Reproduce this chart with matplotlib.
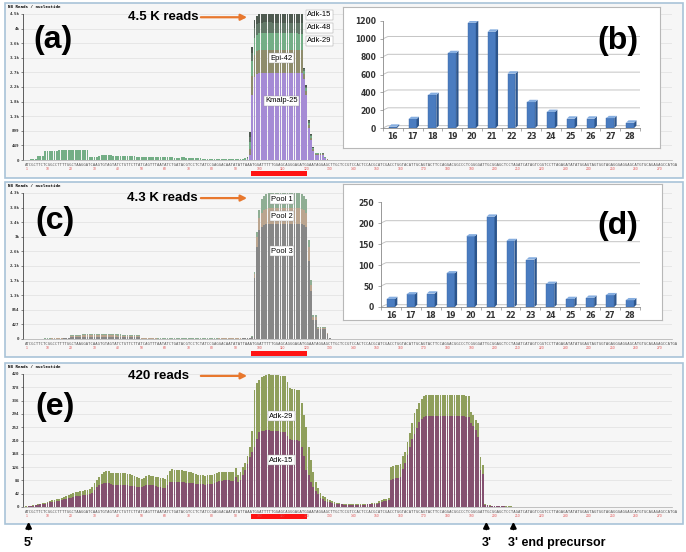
import numpy as np
import matplotlib.pyplot as plt
import matplotlib.transforms as mtransforms
from matplotlib.patches import Rectangle, Polygon

plt.rcParams['font.family'] = ['Liberation Sans', 'DejaVu Sans']

W, H = 686, 552
N = 275  # nucleotides shown along the precursor


def pad(values):
    return np.array(values + [0] * (N - len(values)), dtype=float)


# miRNA location on the precursor (0-based index), drawn as the red bar
mirna_start, mirna_end = 96, 119

# nucleotide numbers printed in red under the sequence
nt_labels = [1, 10, 20, 30, 40, 50, 60, 70, 80, 90, 100, 110, 120, 130, 140,
             150, 160, 170, 180, 190, 200, 210, 220, 230, 240, 250, 260, 270]

seq_text = ("ATCGCTTCTCGGCCTTTTGGCTAAGGATCAAGTGTAGTATCTGTTCTTATCAGTTTAATATCTGATACG"
            "TCCTCTATCCGAGGACAATATATTAAATGGATTTTTGGAGCAGGGAGATGGAATAGGAGCTTGCTCCGT"
            "CCACTCCACGCATCGACCTGGTACATTGCAGTACTTCCAGGACGGCCCTCGGGGATTGCGGAGCTCCTA"
            "GATCATAGTCGGTCCTTAGAGATATATGGAGTAGTGGTAGAGGGAGGAGCATGTGCAGAGAGCCATGAG"
            "GCATCAGCATTCCAGT")

# ---- (a) reads / nucleotide, per library (stack order bottom -> top)
kmalp_25 = [0] * 94 + [20, 150, 2000, 2550, 2650,
                       2690, 2690, 2690, 2695, 2695, 2695, 2690, 2690, 2690,
                       2690, 2690, 2690, 2690, 2690, 2685, 2685, 2685, 2680,
                       2680, 2500, 2000, 1000, 630, 290, 160, 160, 160, 150, 60, 15]
epi_42 = [0] * 94 + [20, 200, 600, 700, 700,
                     700, 700, 705, 705, 705, 700, 700, 700, 700,
                     700, 700, 700, 700, 700, 700, 700, 700, 700,
                     700, 150, 130, 90, 60, 40, 25, 25, 25, 25, 15, 5]
adk_29 = [10, 15, 20, 20, 25, 110, 120, 125,
          285, 287, 288, 290, 290, 292, 293, 295, 295, 296, 297, 298, 300, 300, 302, 303, 305, 306, 308,
          90, 85, 90, 100, 120,
          140, 145, 145, 140, 140, 138, 135, 130, 128, 125, 120, 118, 115,
          110, 108, 105, 100, 95, 90, 85, 82, 80, 80, 78, 78, 80, 80, 82, 82, 80, 78, 75, 75,
          75, 78, 78, 75, 72, 70, 70, 65, 60, 55,
          40, 40, 38, 38, 35, 35, 35, 30, 30, 30, 30, 30, 30, 30, 28, 30, 35, 40, 60] + \
         [30, 200, 450, 500, 510,
          515, 515, 515, 515, 515, 515, 515, 515, 515,
          515, 515, 515, 515, 515, 515, 515, 515, 515,
          510, 90, 80, 60, 50, 30, 20, 20, 20, 20, 10, 5]
adk_48 = [0] * 94 + [15, 170, 250, 320, 320,
                     330, 330, 330, 330, 330, 330, 330, 330, 330,
                     330, 330, 330, 330, 330, 330, 330, 330, 330,
                     330, 50, 50, 40, 30, 20, 15, 15, 15, 15, 10, 3]
adk_15 = [0] * 94 + [15, 150, 190, 250, 260,
                     265, 265, 265, 265, 265, 265, 265, 265, 265,
                     265, 265, 265, 265, 265, 265, 265, 265, 265,
                     265, 50, 50, 40, 30, 20, 10, 10, 10, 10, 5, 2]

# ---- (c) reads / nucleotide, per pool
pool_3 = [5, 5, 6, 6, 7, 8, 8, 9, 10, 10, 10, 12, 12, 12, 14, 14, 15, 15, 16,
          55, 58, 60, 60, 62, 62, 63, 63, 64, 64, 65, 65, 65, 66, 66, 66, 65, 65, 64, 64,
          63, 63, 62, 62, 60, 60, 58, 58, 56, 55,
          12, 12, 11, 11, 10, 10, 10, 9, 9, 9, 9, 9, 9, 9, 8, 8, 8, 8, 8, 8, 8, 8, 8, 8,
          8, 8, 8, 8, 8, 9, 9, 9, 9, 10, 10, 10, 10, 11, 11, 12, 12, 13, 14, 15, 16, 18, 20,
          60, 1800, 2700, 3200,
          3300, 3350, 3380, 3400, 3400, 3400, 3400, 3400, 3400, 3400,
          3400, 3400, 3400, 3400, 3400, 3400, 3400, 3380, 3350, 3300,
          2300, 1400, 550, 550, 280, 280, 280, 280, 140, 20, 5]
pool_2 = [3] * 19 + [35, 38, 40, 40, 40, 42, 42, 42, 42, 42, 42, 42, 42, 42, 42,
                     42, 42, 42, 42, 42, 40, 40, 40, 40, 40, 38, 38, 36, 36, 35] + \
         [5] * 47 + [10, 100, 300, 350,
                     420, 440, 450, 450, 450, 450, 450, 450, 450, 450,
                     450, 450, 450, 450, 450, 450, 450, 450, 440, 420,
                     400, 200, 100, 100, 50, 50, 50, 50, 25, 5]
pool_1 = [2] * 19 + [25, 28, 30, 30, 30, 32, 32, 32, 32, 32, 32, 32, 32, 32, 32,
                     32, 32, 32, 32, 32, 30, 30, 30, 30, 30, 28, 28, 26, 26, 25] + \
         [4] * 47 + [8, 80, 160, 250,
                     400, 420, 440, 440, 440, 440, 440, 440, 440, 440,
                     440, 440, 440, 440, 440, 440, 440, 440, 420, 400,
                     220, 140, 50, 50, 30, 30, 30, 30, 15, 3]

# ---- (e) reads / nucleotide, Adk-15 (bottom) and Adk-29 (top)
adk_15_e = [1, 2, 3, 4, 5, 6, 8, 9, 11, 13,
            15, 16, 17, 19, 20, 22, 24, 26, 28, 30,
            32, 34, 35, 36, 37, 38, 39, 40, 45, 55,
            62, 68, 72, 75, 76, 75, 72, 70, 70, 71,
            70, 70, 71, 69, 67, 66, 65, 64, 63, 62,
            65, 68, 70, 69, 68, 66, 64, 62, 61, 60,
            70, 78, 80, 80, 79, 80, 79, 78, 77, 76,
            76, 75, 74, 73, 72, 72, 71, 72, 72, 73,
            75, 78, 81, 83, 84, 84, 85, 83, 82, 95,
            78, 86, 100, 117, 135, 159, 175, 188, 215, 238,
            240, 241, 242, 242, 241, 240, 240, 239, 238, 238,
            237, 225, 214, 212, 212, 211, 210, 190, 160, 117,
            100, 80, 62, 50, 40, 30, 24, 20, 17, 15,
            13, 11, 10, 9, 8, 7, 7, 7, 7, 7,
            7, 7, 7, 7, 7, 8, 8, 9, 10, 11,
            14, 17, 19, 20, 22, 85, 90, 93, 93, 94,
            120, 138, 165, 190, 215, 232, 250, 269, 278, 285,
            286, 287, 287, 288, 287, 287, 288, 288, 287, 287,
            287, 286, 287, 287, 288, 287, 286, 285, 283,
            264, 255, 243, 220, 117, 105,
            6, 5, 4, 3, 3, 2, 2, 2, 2, 1, 1, 1, 1]
adk_29_e = [1, 1, 1, 1, 1, 2, 2, 3, 3, 4,
            5, 5, 5, 5, 6, 6, 7, 8, 9, 10,
            12, 13, 13, 14, 15, 15, 15, 16, 17, 20,
            23, 27, 33, 37, 38, 38, 36, 36, 37, 37,
            37, 36, 36, 36, 36, 34, 32, 31, 29, 28,
            28, 29, 30, 30, 29, 29, 30, 30, 29, 30,
            30, 37, 39, 38, 38, 38, 37, 37, 37, 36,
            34, 32, 30, 29, 29, 28, 28, 28, 29, 28,
            29, 29, 28, 27, 27, 27, 27, 27, 27, 29,
            23, 26, 25, 21, 25, 31, 65, 181, 175, 163,
            170, 173, 176, 178, 177, 177, 176, 177, 177, 176,
            177, 170, 161, 160, 160, 159, 158, 137, 130, 137,
            90, 68, 48, 28, 20, 15, 11, 10, 9, 7,
            6, 5, 4, 3, 3, 3, 3, 2, 2, 2,
            2, 2, 2, 2, 3, 2, 3, 3, 3, 3,
            4, 5, 5, 6, 6, 42, 40, 40, 41, 41,
            40, 37, 40, 43, 50, 64, 60, 58, 62, 66,
            67, 67, 67, 67, 67, 67, 67, 67, 67, 67,
            67, 67, 67, 67, 67, 67, 67, 67, 67,
            37, 35, 32, 45, 42, 28,
            2, 1, 1, 1, 1, 1, 1, 1, 1, 1, 1, 1, 0]

# ---- (b) and (d) read-length distributions
lengths = [16, 17, 18, 19, 20, 21, 22, 23, 24, 25, 26, 27, 28]
counts_b = [15, 100, 370, 840, 1180, 1080, 610, 290, 180, 105, 105, 110, 60]
counts_d = [19, 30, 32, 80, 168, 215, 157, 113, 55, 19, 22, 28, 16]

ticks_a = ['0', '449', '899', '1.3k', '1.8k', '2.2k', '2.7k', '3.1k', '3.6k', '4k', '4.5k']
ticks_c = ['0', '427', '854', '1.3k', '1.7k', '2.1k', '2.6k', '3k', '3.4k', '3.8k', '4.3k']
ticks_e = ['0', '42', '84', '126', '168', '210', '252', '294', '336', '378', '420']

orange = '#e8782e'

fig = plt.figure(figsize=(W / 100, H / 100), dpi=100)


def px_box(x0, y0, x1, y1):
    return [x0 / W, 1 - y1 / H, (x1 - x0) / W, (y1 - y0) / H]


# light blue frames round the three panels
for y0, y1 in [(3, 178), (182, 357), (363, 524)]:
    fig.add_artist(Rectangle((5 / W, 1 - y1 / H), 678 / W, (y1 - y0) / H,
                             transform=fig.transFigure, facecolor='#f6f6f6',
                             edgecolor='#a9c3d8', lw=1.2, zorder=-5))


def coverage(y_top, y_zero, series, colors, ymax, ticklabels, bar_off):
    ax = fig.add_axes(px_box(23, y_top, 672, y_zero))
    ax.set_facecolor('#f6f6f6')
    h = y_zero - y_top
    x = np.arange(N)
    bottom = np.zeros(N)
    for vals, col in zip(series, colors):
        vals = pad(vals)
        ax.bar(x, vals, bottom=bottom, width=0.78, color=col, linewidth=0)
        bottom += vals
    ax.set_xlim(-1.4, N - 0.6)
    ax.set_ylim(0, ymax)
    ax.set_yticks(np.linspace(0, ymax, 11))
    ax.set_yticklabels(ticklabels, fontsize=3, family='DejaVu Sans Mono', weight='bold')
    ax.yaxis.grid(True, color='#e0e0e0', lw=0.5)
    ax.set_axisbelow(True)
    ax.set_xticks([])
    ax.spines['top'].set_visible(False)
    ax.spines['right'].set_visible(False)
    ax.spines['left'].set_color('#444')
    ax.spines['left'].set_linewidth(0.6)
    ax.spines['bottom'].set_color('#aaa')
    ax.spines['bottom'].set_linewidth(0.5)
    ax.tick_params(axis='y', length=1.5, width=0.4, pad=1, colors='#333')
    ax.text(-0.023, 1.05, 'NB Reads / nucleotide', transform=ax.transAxes,
            fontsize=3, family='DejaVu Sans Mono', weight='bold', va='center')
    trans = mtransforms.blended_transform_factory(ax.transData, ax.transAxes)
    ax.text(-0.5, -5 / h, seq_text[:N], transform=trans, fontsize=2.81,
            family='DejaVu Sans Mono', color='#555555', va='center', ha='left')
    for p in nt_labels:
        ax.text(p - 1, -9 / h, str(p), transform=trans, fontsize=2.4,
                color='#e05050', ha='center', va='center')
    ax.add_patch(Rectangle((mirna_start - 0.5, -(bar_off + 5) / h),
                           mirna_end - mirna_start + 1, 5 / h, transform=trans,
                           facecolor='#ff1414', edgecolor='none', clip_on=False))
    return ax, trans


def tag(ax, x, y, s):
    ax.text(x, y, s, fontsize=5.5, ha='center', va='center', zorder=5,
            bbox=dict(facecolor='white', edgecolor='#999', lw=0.3, pad=0.8))


def reads_arrow(ax, y, s, xtext):
    ax.text(xtext, y, s, fontsize=9.5, weight='bold', ha='center', va='center')
    ax.annotate('', xy=(95, y), xytext=(73, y),
                arrowprops=dict(arrowstyle='-|>', color=orange, lw=1.6, mutation_scale=9))


# ---- panel (a)
ax_a, _ = coverage(14, 160, [kmalp_25, epi_42, adk_29, adk_48, adk_15],
                   ['#a58bd5', '#8e8c6c', '#74ae86', '#627868', '#4e5a50'],
                   4500, ticks_a, 11)
reads_arrow(ax_a, 4400, '4.5 K reads', 58)
tag(ax_a, 124.5, 4470, 'Adk-15')
tag(ax_a, 124.5, 4070, 'Adk-48')
tag(ax_a, 124.5, 3670, 'Adk-29')
tag(ax_a, 108.5, 3140, 'Epi-42')
tag(ax_a, 108.5, 1820, 'Kmalp-25')

# ---- panel (c)
ax_c, _ = coverage(193, 339, [pool_3, pool_2, pool_1],
                   ['#878787', '#bba58f', '#8fae94'], 4300, ticks_c, 12)
reads_arrow(ax_c, 4150, '4.3 K reads', 58)
tag(ax_c, 108.5, 4120, 'Pool 1')
tag(ax_c, 108.5, 3620, 'Pool 2')
tag(ax_c, 108.5, 2590, 'Pool 3')

# ---- panel (e)
ax_e, trans_e = coverage(374, 507, [adk_15_e, adk_29_e],
                         ['#84506f', '#8f9f5c'], 420, ticks_e, 7)
reads_arrow(ax_e, 414, '420 reads', 56)
tag(ax_e, 108.5, 287, 'Adk-29')
tag(ax_e, 108.5, 148, 'Adk-15')

he = 507 - 374
for xi, lab, ha, dx in [(1, "5'", 'center', 0), (195.5, "3'", 'center', 0),
                        (207, "3' end precursor", 'left', -2.5)]:
    ax_e.annotate('', xy=(xi, -12 / he), xytext=(xi, -25 / he), xycoords=trans_e,
                  textcoords=trans_e, annotation_clip=False,
                  arrowprops=dict(arrowstyle='-|>', color='black', lw=1.6, mutation_scale=8))
    ax_e.text(xi + dx, -36 / he, lab, transform=trans_e, fontsize=9, weight='bold',
              ha=ha, va='center')


# ---- insets (b) and (d): Excel-like 3D column charts
def inset(box, area, counts, ymax, step):
    bx = fig.add_axes(px_box(*box))
    bx.set_xticks([])
    bx.set_yticks([])
    bx.set_facecolor('white')
    for s in bx.spines.values():
        s.set_color('#b8b8b8')
        s.set_linewidth(0.8)
    ax = fig.add_axes(px_box(*area))
    ax.patch.set_alpha(0)
    depth = ymax * 0.022
    ax.set_xlim(15.5, 28.5)
    ax.set_ylim(0, ymax)
    yt = np.arange(0, ymax + 1, step)
    for v in yt[1:]:
        ax.plot([15.5, 15.75, 28.5], [v, v + depth, v + depth], color='#c4c4c4', lw=0.7, zorder=0)
    ax.plot([15.5, 15.75, 28.5], [0, depth, depth], color='#c4c4c4', lw=0.7, zorder=0)
    ax.bar(lengths, counts, width=0.4, color='#4a7cc0', edgecolor='#3a66a4', lw=0.3, zorder=3)
    for c, v in zip(lengths, counts):
        ax.add_patch(Polygon([(c + 0.2, 0), (c + 0.32, depth), (c + 0.32, v + depth), (c + 0.2, v)],
                             facecolor='#2c558c', edgecolor='none', zorder=3))
        ax.add_patch(Polygon([(c - 0.2, v), (c - 0.08, v + depth), (c + 0.32, v + depth), (c + 0.2, v)],
                             facecolor='#86aee0', edgecolor='none', zorder=3))
    ax.set_yticks(yt)
    ax.set_yticklabels([str(int(v)) for v in yt])
    ax.set_xticks(lengths)
    ax.set_xticks(np.arange(15.5, 29, 1), minor=True)
    for s in ['top', 'right']:
        ax.spines[s].set_visible(False)
    ax.spines['left'].set_color('#888')
    ax.spines['bottom'].set_color('#888')
    ax.spines['left'].set_linewidth(0.6)
    ax.spines['bottom'].set_linewidth(0.6)
    ax.tick_params(axis='both', labelsize=5.5, colors='#333', length=0, pad=3)
    ax.tick_params(axis='y', length=2, width=0.5, color='#888')
    ax.tick_params(axis='x', which='minor', length=2, width=0.5, color='#888')
    for t in ax.get_xticklabels() + ax.get_yticklabels():
        t.set_fontweight('bold')
        t.set_family('DejaVu Sans')
    return ax


inset((343, 7, 660, 148), (383, 21, 640, 128), counts_b, 1200, 200)
inset((343, 184, 662, 320), (381, 202, 640, 307), counts_d, 250, 50)

# panel letters
for s, x, y in [('(a)', 53, 40), ('(b)', 618, 41), ('(c)', 55, 221),
                ('(d)', 618, 226), ('(e)', 55, 407)]:
    fig.text(x / W, 1 - y / H, s, fontsize=23, weight='bold', ha='center', va='center')

fig.savefig('out.png', dpi=100)
